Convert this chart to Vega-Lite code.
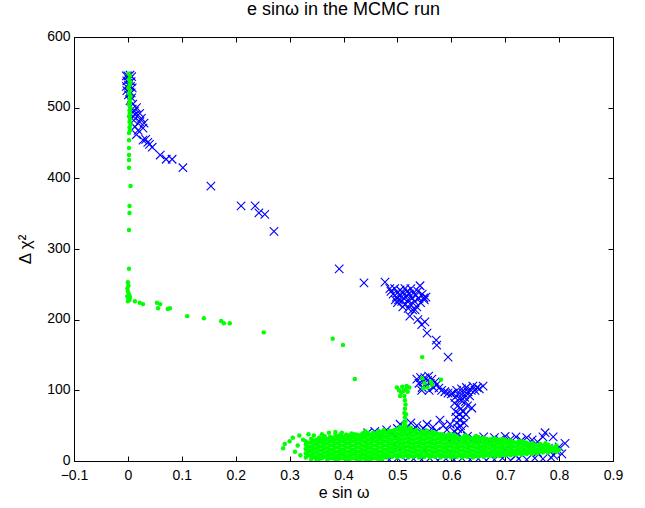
{
"$schema": "https://vega.github.io/schema/vega-lite/v6.json",
"width": 539, "height": 424,
"autosize": {"type": "none"},
"padding": {"left": 74, "top": 37, "right": 32, "bottom": 47},
"background": "white",
"config": {"view": {"stroke": "black", "strokeWidth": 1}, "font": "Liberation Sans"},
"title": {"text": "e sinω in the MCMC run", "fontSize": 18, "fontWeight": "normal", "font": "Liberation Sans", "color": "black", "offset": 10},
"datasets": {
"blue": [
{"x":-0.003,"y":545},{"x":0.0,"y":545},{"x":0.004,"y":546},{"x":0.007,"y":544},{"x":-0.002,"y":538},{"x":0.002,"y":540},{"x":0.006,"y":537},{"x":-0.003,"y":530},{"x":0.001,"y":532},{"x":0.005,"y":530},{"x":0.008,"y":528},{"x":-0.002,"y":524},{"x":0.003,"y":522},{"x":0.006,"y":521},{"x":0.001,"y":518},{"x":0.007,"y":514},{"x":0.004,"y":510},{"x":0.009,"y":505},{"x":0.008,"y":498},{"x":0.012,"y":495},{"x":0.009,"y":488},{"x":0.014,"y":490},{"x":0.011,"y":482},
{"x":0.022,"y":492},{"x":0.013,"y":473},{"x":0.022,"y":480},{"x":0.028,"y":471},{"x":0.019,"y":468},{"x":0.028,"y":454},{"x":0.037,"y":451},{"x":0.045,"y":444},{"x":0.06,"y":433},{"x":0.071,"y":427},{"x":0.082,"y":427},{"x":0.102,"y":415},{"x":0.154,"y":389},{"x":0.21,"y":361},{"x":0.236,"y":361},{"x":0.243,"y":351},{"x":0.254,"y":349},{"x":0.271,"y":325},
{"x":0.025,"y":485},{"x":0.03,"y":478},{"x":0.016,"y":462},{"x":0.033,"y":455},{"x":0.04,"y":448},{"x":0.016,"y":500},
{"x":0.392,"y":272},{"x":0.438,"y":252},{"x":0.477,"y":253},
{"x":0.488,"y":240},{"x":0.492,"y":236},{"x":0.495,"y":244},{"x":0.498,"y":232},{"x":0.5,"y":238},{"x":0.502,"y":228},{"x":0.505,"y":242},{"x":0.505,"y":234},{"x":0.508,"y":226},{"x":0.51,"y":238},{"x":0.512,"y":230},{"x":0.514,"y":244},{"x":0.515,"y":222},{"x":0.517,"y":234},{"x":0.518,"y":240},{"x":0.52,"y":228},{"x":0.522,"y":236},{"x":0.524,"y":222},{"x":0.525,"y":244},{"x":0.527,"y":230},{"x":0.53,"y":238},{"x":0.532,"y":226},{"x":0.534,"y":234},{"x":0.536,"y":218},{"x":0.538,"y":240},{"x":0.54,"y":230},{"x":0.543,"y":224},{"x":0.546,"y":236},{"x":0.55,"y":228},{"x":0.553,"y":232},{"x":0.5,"y":224},{"x":0.51,"y":218},{"x":0.52,"y":216},{"x":0.528,"y":214},{"x":0.496,"y":228},{"x":0.542,"y":248},{"x":0.549,"y":231},{"x":0.486,"y":244},
{"x":0.533,"y":214},{"x":0.523,"y":205},{"x":0.538,"y":200},{"x":0.551,"y":197},{"x":0.545,"y":193},{"x":0.555,"y":181},{"x":0.572,"y":171},{"x":0.573,"y":164},{"x":0.594,"y":147},
{"x":0.536,"y":116},{"x":0.54,"y":110},{"x":0.543,"y":118},{"x":0.546,"y":104},{"x":0.548,"y":112},{"x":0.551,"y":118},{"x":0.553,"y":106},{"x":0.556,"y":114},{"x":0.559,"y":100},{"x":0.561,"y":110},{"x":0.564,"y":116},{"x":0.567,"y":104},{"x":0.57,"y":112},{"x":0.573,"y":108},{"x":0.545,"y":100},{"x":0.558,"y":120},
{"x":0.577,"y":103},{"x":0.582,"y":100},{"x":0.588,"y":98},{"x":0.594,"y":96},{"x":0.6,"y":95},
{"x":0.603,"y":96},{"x":0.607,"y":90},{"x":0.61,"y":100},{"x":0.613,"y":94},{"x":0.616,"y":88},{"x":0.619,"y":102},{"x":0.622,"y":96},{"x":0.625,"y":90},{"x":0.628,"y":104},{"x":0.631,"y":98},{"x":0.634,"y":92},{"x":0.637,"y":100},{"x":0.64,"y":106},{"x":0.644,"y":100},{"x":0.648,"y":104},{"x":0.652,"y":102},{"x":0.618,"y":86},{"x":0.626,"y":84},{"x":0.659,"y":106},
{"x":0.606,"y":82},{"x":0.612,"y":78},{"x":0.618,"y":74},{"x":0.608,"y":70},{"x":0.615,"y":66},{"x":0.622,"y":70},{"x":0.609,"y":62},{"x":0.616,"y":58},{"x":0.622,"y":62},{"x":0.61,"y":54},{"x":0.617,"y":50},{"x":0.624,"y":54},{"x":0.612,"y":46},{"x":0.62,"y":44},{"x":0.638,"y":75},{"x":0.63,"y":78},{"x":0.627,"y":66},
{"x":0.48,"y":44},{"x":0.49,"y":40},{"x":0.5,"y":46},{"x":0.505,"y":52},{"x":0.512,"y":42},{"x":0.518,"y":48},{"x":0.525,"y":54},{"x":0.53,"y":44},{"x":0.536,"y":50},{"x":0.542,"y":42},{"x":0.548,"y":46},{"x":0.555,"y":52},{"x":0.56,"y":40},{"x":0.566,"y":48},{"x":0.572,"y":42},{"x":0.579,"y":58},{"x":0.585,"y":50},{"x":0.592,"y":44},{"x":0.598,"y":52},{"x":0.605,"y":42},{"x":0.612,"y":38},{"x":0.495,"y":34},{"x":0.47,"y":40},{"x":0.462,"y":36},{"x":0.445,"y":40},{"x":0.458,"y":42},{"x":0.473,"y":38},
{"x":0.47,"y":3},{"x":0.485,"y":2},{"x":0.5,"y":4},{"x":0.515,"y":1},{"x":0.53,"y":3},{"x":0.545,"y":2},{"x":0.56,"y":4},{"x":0.575,"y":1},{"x":0.59,"y":3},{"x":0.605,"y":2},{"x":0.62,"y":4},{"x":0.635,"y":2},{"x":0.65,"y":3},{"x":0.665,"y":1},{"x":0.68,"y":2},{"x":0.695,"y":4},{"x":0.71,"y":1},{"x":0.725,"y":3},{"x":0.74,"y":2},{"x":0.755,"y":4},{"x":0.77,"y":3},{"x":0.785,"y":5},
{"x":0.65,"y":30},{"x":0.66,"y":34},{"x":0.67,"y":28},{"x":0.68,"y":33},{"x":0.69,"y":30},{"x":0.7,"y":35},{"x":0.71,"y":31},{"x":0.72,"y":34},{"x":0.73,"y":29},{"x":0.74,"y":33},{"x":0.75,"y":30},{"x":0.76,"y":27},{"x":0.77,"y":34},{"x":0.774,"y":40},{"x":0.789,"y":34},{"x":0.811,"y":25},{"x":0.8,"y":20},{"x":0.795,"y":14},{"x":0.805,"y":10},{"x":0.79,"y":8},{"x":0.78,"y":18},{"x":0.76,"y":12},{"x":0.64,"y":32},{"x":0.63,"y":35},{"x":0.62,"y":33},{"x":0.6,"y":32},{"x":0.59,"y":34},
{"x":0.55,"y":15},{"x":0.6,"y":10},{"x":0.7,"y":15},{"x":0.72,"y":8},{"x":0.74,"y":20},{"x":0.5,"y":20}
],
"green": [
{"x":0.001,"y":548},{"x":0.004,"y":545},{"x":0.002,"y":540},{"x":0.005,"y":536},{"x":0.003,"y":532},{"x":0.001,"y":528},{"x":0.004,"y":524},{"x":0.002,"y":520},{"x":0.005,"y":516},{"x":0.003,"y":512},{"x":0.004,"y":508},{"x":0.002,"y":504},{"x":0.005,"y":500},{"x":0.003,"y":496},{"x":0.004,"y":492},{"x":0.002,"y":488},{"x":0.004,"y":484},{"x":0.003,"y":480},{"x":0.005,"y":476},{"x":0.003,"y":472},{"x":0.004,"y":468},{"x":0.002,"y":464},
{"x":0.002,"y":454},{"x":0.002,"y":443},{"x":0.002,"y":433},{"x":0.002,"y":426},{"x":0.002,"y":415},{"x":0.005,"y":389},{"x":0.003,"y":361},{"x":0.003,"y":351},{"x":0.002,"y":327},{"x":0.002,"y":272},
{"x":0.0,"y":253},{"x":0.001,"y":248},{"x":-0.001,"y":244},{"x":0.0,"y":240},{"x":0.002,"y":236},{"x":-0.001,"y":233},{"x":0.001,"y":230},{"x":0.003,"y":228},{"x":0.0,"y":226},{"x":0.004,"y":232},
{"x":0.013,"y":226},{"x":0.022,"y":224},{"x":0.028,"y":222},{"x":0.054,"y":224},{"x":0.056,"y":216},{"x":0.06,"y":222},{"x":0.074,"y":215},{"x":0.078,"y":216},{"x":0.11,"y":205},{"x":0.141,"y":202},{"x":0.173,"y":198},{"x":0.178,"y":195},{"x":0.189,"y":195},{"x":0.252,"y":182},
{"x":0.38,"y":173},{"x":0.399,"y":164},{"x":0.546,"y":147},{"x":0.421,"y":116},{"x":0.581,"y":115},
{"x":0.514,"y":50},{"x":0.515,"y":56},{"x":0.514,"y":62},{"x":0.513,"y":68},{"x":0.514,"y":74},{"x":0.515,"y":80},{"x":0.514,"y":86},{"x":0.513,"y":92},{"x":0.512,"y":54},{"x":0.516,"y":66},{"x":0.516,"y":44},
{"x":0.499,"y":104},{"x":0.503,"y":100},{"x":0.507,"y":97},{"x":0.511,"y":99},{"x":0.515,"y":101},{"x":0.519,"y":98},{"x":0.522,"y":104},{"x":0.509,"y":105},{"x":0.517,"y":106},{"x":0.505,"y":92},
{"x":0.546,"y":117},{"x":0.55,"y":110},{"x":0.556,"y":104},{"x":0.562,"y":112},{"x":0.548,"y":103},{"x":0.564,"y":108},
{"x":0.291,"y":24},{"x":0.288,"y":18},{"x":0.306,"y":33},{"x":0.31,"y":13},{"x":0.3,"y":28},{"x":0.315,"y":22},{"x":0.32,"y":8},{"x":0.325,"y":30},{"x":0.318,"y":36},{"x":0.335,"y":38},{"x":0.345,"y":36},{"x":0.36,"y":38},{"x":0.373,"y":40},{"x":0.385,"y":41},{"x":0.397,"y":40},{"x":0.42,"y":38},{"x":0.44,"y":42},
{"x":0.33,"y":5},{"x":0.33,"y":11},{"x":0.33,"y":17},{"x":0.33,"y":23},{"x":0.33,"y":28},
{"x":0.34,"y":3},{"x":0.34,"y":8},{"x":0.34,"y":14},{"x":0.34,"y":20},{"x":0.34,"y":26},{"x":0.34,"y":31},
{"x":0.35,"y":2},{"x":0.35,"y":6},{"x":0.35,"y":12},{"x":0.35,"y":18},{"x":0.35,"y":24},{"x":0.35,"y":30},
{"x":0.36,"y":4},{"x":0.36,"y":9},{"x":0.36,"y":15},{"x":0.36,"y":21},{"x":0.36,"y":27},{"x":0.36,"y":32},
{"x":0.37,"y":2},{"x":0.37,"y":7},{"x":0.37,"y":13},{"x":0.37,"y":19},{"x":0.37,"y":25},{"x":0.37,"y":31},
{"x":0.38,"y":4},{"x":0.38,"y":10},{"x":0.38,"y":16},{"x":0.38,"y":22},{"x":0.38,"y":28},{"x":0.38,"y":33},
{"x":0.39,"y":2},{"x":0.39,"y":7},{"x":0.39,"y":13},{"x":0.39,"y":19},{"x":0.39,"y":25},{"x":0.39,"y":31},{"x":0.39,"y":35},
{"x":0.4,"y":4},{"x":0.4,"y":10},{"x":0.4,"y":16},{"x":0.4,"y":22},{"x":0.4,"y":28},{"x":0.4,"y":34},
{"x":0.41,"y":1},{"x":0.41,"y":7},{"x":0.41,"y":13},{"x":0.41,"y":19},{"x":0.41,"y":25},{"x":0.41,"y":31},{"x":0.41,"y":36},
{"x":0.42,"y":4},{"x":0.42,"y":10},{"x":0.42,"y":16},{"x":0.42,"y":22},{"x":0.42,"y":28},{"x":0.42,"y":34},
{"x":0.43,"y":1},{"x":0.43,"y":7},{"x":0.43,"y":13},{"x":0.43,"y":19},{"x":0.43,"y":25},{"x":0.43,"y":31},{"x":0.43,"y":36},
{"x":0.44,"y":3},{"x":0.44,"y":9},{"x":0.44,"y":15},{"x":0.44,"y":21},{"x":0.44,"y":27},{"x":0.44,"y":33},{"x":0.44,"y":38},
{"x":0.45,"y":2},{"x":0.45,"y":7},{"x":0.45,"y":13},{"x":0.45,"y":19},{"x":0.45,"y":25},{"x":0.45,"y":31},{"x":0.45,"y":37},
{"x":0.46,"y":4},{"x":0.46,"y":10},{"x":0.46,"y":16},{"x":0.46,"y":22},{"x":0.46,"y":28},{"x":0.46,"y":34},{"x":0.46,"y":39},
{"x":0.47,"y":2},{"x":0.47,"y":7},{"x":0.47,"y":13},{"x":0.47,"y":19},{"x":0.47,"y":25},{"x":0.47,"y":31},{"x":0.47,"y":37},{"x":0.47,"y":41},
{"x":0.48,"y":5},{"x":0.48,"y":10},{"x":0.48,"y":16},{"x":0.48,"y":22},{"x":0.48,"y":28},{"x":0.48,"y":34},{"x":0.48,"y":40},
{"x":0.49,"y":6},{"x":0.49,"y":12},{"x":0.49,"y":18},{"x":0.49,"y":24},{"x":0.49,"y":30},{"x":0.49,"y":36},{"x":0.49,"y":42},
{"x":0.5,"y":5},{"x":0.5,"y":9},{"x":0.5,"y":15},{"x":0.5,"y":21},{"x":0.5,"y":27},{"x":0.5,"y":33},{"x":0.5,"y":39},{"x":0.5,"y":45},
{"x":0.51,"y":6},{"x":0.51,"y":12},{"x":0.51,"y":18},{"x":0.51,"y":24},{"x":0.51,"y":30},{"x":0.51,"y":36},{"x":0.51,"y":42},{"x":0.51,"y":47},
{"x":0.52,"y":5},{"x":0.52,"y":9},{"x":0.52,"y":15},{"x":0.52,"y":21},{"x":0.52,"y":27},{"x":0.52,"y":33},{"x":0.52,"y":39},{"x":0.52,"y":45},
{"x":0.53,"y":6},{"x":0.53,"y":12},{"x":0.53,"y":18},{"x":0.53,"y":24},{"x":0.53,"y":30},{"x":0.53,"y":36},{"x":0.53,"y":42},
{"x":0.54,"y":5},{"x":0.54,"y":9},{"x":0.54,"y":15},{"x":0.54,"y":21},{"x":0.54,"y":27},{"x":0.54,"y":33},{"x":0.54,"y":39},
{"x":0.55,"y":6},{"x":0.55,"y":12},{"x":0.55,"y":18},{"x":0.55,"y":24},{"x":0.55,"y":30},{"x":0.55,"y":36},{"x":0.55,"y":41},
{"x":0.56,"y":5},{"x":0.56,"y":9},{"x":0.56,"y":15},{"x":0.56,"y":21},{"x":0.56,"y":27},{"x":0.56,"y":33},{"x":0.56,"y":39},
{"x":0.57,"y":6},{"x":0.57,"y":12},{"x":0.57,"y":18},{"x":0.57,"y":24},{"x":0.57,"y":30},{"x":0.57,"y":36},{"x":0.57,"y":40},
{"x":0.58,"y":5},{"x":0.58,"y":9},{"x":0.58,"y":15},{"x":0.58,"y":21},{"x":0.58,"y":27},{"x":0.58,"y":33},{"x":0.58,"y":38},
{"x":0.59,"y":6},{"x":0.59,"y":12},{"x":0.59,"y":18},{"x":0.59,"y":24},{"x":0.59,"y":30},{"x":0.59,"y":36},
{"x":0.6,"y":5},{"x":0.6,"y":9},{"x":0.6,"y":15},{"x":0.6,"y":21},{"x":0.6,"y":27},{"x":0.6,"y":33},{"x":0.6,"y":37},
{"x":0.61,"y":6},{"x":0.61,"y":12},{"x":0.61,"y":18},{"x":0.61,"y":24},{"x":0.61,"y":30},{"x":0.61,"y":35},
{"x":0.62,"y":5},{"x":0.62,"y":9},{"x":0.62,"y":15},{"x":0.62,"y":21},{"x":0.62,"y":27},{"x":0.62,"y":33},
{"x":0.63,"y":6},{"x":0.63,"y":12},{"x":0.63,"y":18},{"x":0.63,"y":24},{"x":0.63,"y":30},{"x":0.63,"y":35},
{"x":0.64,"y":5},{"x":0.64,"y":9},{"x":0.64,"y":15},{"x":0.64,"y":21},{"x":0.64,"y":27},{"x":0.64,"y":32},
{"x":0.65,"y":6},{"x":0.65,"y":12},{"x":0.65,"y":18},{"x":0.65,"y":24},{"x":0.65,"y":30},{"x":0.65,"y":34},
{"x":0.66,"y":6},{"x":0.66,"y":10},{"x":0.66,"y":16},{"x":0.66,"y":22},{"x":0.66,"y":28},{"x":0.66,"y":33},
{"x":0.67,"y":7},{"x":0.67,"y":12},{"x":0.67,"y":18},{"x":0.67,"y":24},{"x":0.67,"y":30},
{"x":0.68,"y":6},{"x":0.68,"y":10},{"x":0.68,"y":16},{"x":0.68,"y":22},{"x":0.68,"y":28},{"x":0.68,"y":32},
{"x":0.69,"y":7},{"x":0.69,"y":12},{"x":0.69,"y":18},{"x":0.69,"y":24},{"x":0.69,"y":30},
{"x":0.7,"y":8},{"x":0.7,"y":13},{"x":0.7,"y":19},{"x":0.7,"y":25},{"x":0.7,"y":30},
{"x":0.71,"y":8},{"x":0.71,"y":12},{"x":0.71,"y":18},{"x":0.71,"y":24},{"x":0.71,"y":29},
{"x":0.72,"y":9},{"x":0.72,"y":14},{"x":0.72,"y":20},{"x":0.72,"y":26},
{"x":0.73,"y":9},{"x":0.73,"y":13},{"x":0.73,"y":19},{"x":0.73,"y":25},{"x":0.73,"y":28},
{"x":0.74,"y":10},{"x":0.74,"y":15},{"x":0.74,"y":21},{"x":0.74,"y":26},
{"x":0.75,"y":10},{"x":0.75,"y":14},{"x":0.75,"y":20},{"x":0.75,"y":25},
{"x":0.76,"y":11},{"x":0.76,"y":16},{"x":0.76,"y":22},
{"x":0.77,"y":12},{"x":0.77,"y":17},{"x":0.77,"y":22},
{"x":0.78,"y":12},{"x":0.78,"y":18},{"x":0.78,"y":23},
{"x":0.79,"y":14},{"x":0.79,"y":19},
{"x":0.8,"y":16},
{"x":0.335,"y":8},{"x":0.335,"y":14},{"x":0.335,"y":20},{"x":0.335,"y":26},
{"x":0.345,"y":5},{"x":0.345,"y":11},{"x":0.345,"y":17},{"x":0.345,"y":23},{"x":0.345,"y":29},
{"x":0.355,"y":3},{"x":0.355,"y":9},{"x":0.355,"y":15},{"x":0.355,"y":21},{"x":0.355,"y":27},{"x":0.355,"y":33},
{"x":0.365,"y":6},{"x":0.365,"y":12},{"x":0.365,"y":18},{"x":0.365,"y":24},{"x":0.365,"y":30},{"x":0.365,"y":35},
{"x":0.375,"y":4},{"x":0.375,"y":10},{"x":0.375,"y":16},{"x":0.375,"y":22},{"x":0.375,"y":28},{"x":0.375,"y":34},
{"x":0.385,"y":2},{"x":0.385,"y":7},{"x":0.385,"y":13},{"x":0.385,"y":19},{"x":0.385,"y":25},{"x":0.385,"y":31},{"x":0.385,"y":37},
{"x":0.395,"y":4},{"x":0.395,"y":10},{"x":0.395,"y":16},{"x":0.395,"y":22},{"x":0.395,"y":28},{"x":0.395,"y":34},{"x":0.395,"y":38},
{"x":0.405,"y":2},{"x":0.405,"y":7},{"x":0.405,"y":13},{"x":0.405,"y":19},{"x":0.405,"y":25},{"x":0.405,"y":31},{"x":0.405,"y":37},
{"x":0.415,"y":4},{"x":0.415,"y":10},{"x":0.415,"y":16},{"x":0.415,"y":22},{"x":0.415,"y":28},{"x":0.415,"y":34},{"x":0.415,"y":39},
{"x":0.425,"y":2},{"x":0.425,"y":7},{"x":0.425,"y":13},{"x":0.425,"y":19},{"x":0.425,"y":25},{"x":0.425,"y":31},{"x":0.425,"y":37},
{"x":0.435,"y":4},{"x":0.435,"y":10},{"x":0.435,"y":16},{"x":0.435,"y":22},{"x":0.435,"y":28},{"x":0.435,"y":34},{"x":0.435,"y":39},
{"x":0.445,"y":2},{"x":0.445,"y":6},{"x":0.445,"y":12},{"x":0.445,"y":18},{"x":0.445,"y":24},{"x":0.445,"y":30},{"x":0.445,"y":36},{"x":0.445,"y":40},
{"x":0.455,"y":4},{"x":0.455,"y":10},{"x":0.455,"y":16},{"x":0.455,"y":22},{"x":0.455,"y":28},{"x":0.455,"y":34},{"x":0.455,"y":40},
{"x":0.465,"y":2},{"x":0.465,"y":7},{"x":0.465,"y":13},{"x":0.465,"y":19},{"x":0.465,"y":25},{"x":0.465,"y":31},{"x":0.465,"y":37},{"x":0.465,"y":42},
{"x":0.475,"y":5},{"x":0.475,"y":10},{"x":0.475,"y":16},{"x":0.475,"y":22},{"x":0.475,"y":28},{"x":0.475,"y":34},{"x":0.475,"y":40},{"x":0.475,"y":44},
{"x":0.485,"y":7},{"x":0.485,"y":13},{"x":0.485,"y":19},{"x":0.485,"y":25},{"x":0.485,"y":31},{"x":0.485,"y":37},{"x":0.485,"y":43},
{"x":0.495,"y":8},{"x":0.495,"y":14},{"x":0.495,"y":20},{"x":0.495,"y":26},{"x":0.495,"y":32},{"x":0.495,"y":38},{"x":0.495,"y":44},
{"x":0.505,"y":7},{"x":0.505,"y":13},{"x":0.505,"y":19},{"x":0.505,"y":25},{"x":0.505,"y":31},{"x":0.505,"y":37},{"x":0.505,"y":43},{"x":0.505,"y":48},
{"x":0.515,"y":8},{"x":0.515,"y":14},{"x":0.515,"y":20},{"x":0.515,"y":26},{"x":0.515,"y":32},{"x":0.515,"y":38},{"x":0.515,"y":44},{"x":0.515,"y":50},
{"x":0.525,"y":7},{"x":0.525,"y":13},{"x":0.525,"y":19},{"x":0.525,"y":25},{"x":0.525,"y":31},{"x":0.525,"y":37},{"x":0.525,"y":43},{"x":0.525,"y":47},
{"x":0.535,"y":8},{"x":0.535,"y":14},{"x":0.535,"y":20},{"x":0.535,"y":26},{"x":0.535,"y":32},{"x":0.535,"y":38},{"x":0.535,"y":44},
{"x":0.545,"y":7},{"x":0.545,"y":13},{"x":0.545,"y":19},{"x":0.545,"y":25},{"x":0.545,"y":31},{"x":0.545,"y":37},{"x":0.545,"y":42},
{"x":0.555,"y":8},{"x":0.555,"y":14},{"x":0.555,"y":20},{"x":0.555,"y":26},{"x":0.555,"y":32},{"x":0.555,"y":38},{"x":0.555,"y":43},
{"x":0.565,"y":7},{"x":0.565,"y":13},{"x":0.565,"y":19},{"x":0.565,"y":25},{"x":0.565,"y":31},{"x":0.565,"y":37},{"x":0.565,"y":41},
{"x":0.575,"y":8},{"x":0.575,"y":14},{"x":0.575,"y":20},{"x":0.575,"y":26},{"x":0.575,"y":32},{"x":0.575,"y":38},
{"x":0.585,"y":7},{"x":0.585,"y":13},{"x":0.585,"y":19},{"x":0.585,"y":25},{"x":0.585,"y":31},{"x":0.585,"y":37},
{"x":0.595,"y":8},{"x":0.595,"y":14},{"x":0.595,"y":20},{"x":0.595,"y":26},{"x":0.595,"y":32},{"x":0.595,"y":38},
{"x":0.605,"y":7},{"x":0.605,"y":13},{"x":0.605,"y":19},{"x":0.605,"y":25},{"x":0.605,"y":31},{"x":0.605,"y":37},
{"x":0.615,"y":8},{"x":0.615,"y":14},{"x":0.615,"y":20},{"x":0.615,"y":26},{"x":0.615,"y":32},
{"x":0.625,"y":7},{"x":0.625,"y":13},{"x":0.625,"y":19},{"x":0.625,"y":25},{"x":0.625,"y":31},{"x":0.625,"y":36},
{"x":0.635,"y":8},{"x":0.635,"y":14},{"x":0.635,"y":20},{"x":0.635,"y":26},{"x":0.635,"y":32},
{"x":0.645,"y":7},{"x":0.645,"y":13},{"x":0.645,"y":19},{"x":0.645,"y":25},{"x":0.645,"y":31},{"x":0.645,"y":35},
{"x":0.655,"y":8},{"x":0.655,"y":14},{"x":0.655,"y":20},{"x":0.655,"y":26},{"x":0.655,"y":32},
{"x":0.665,"y":8},{"x":0.665,"y":13},{"x":0.665,"y":19},{"x":0.665,"y":25},{"x":0.665,"y":31},
{"x":0.675,"y":9},{"x":0.675,"y":14},{"x":0.675,"y":20},{"x":0.675,"y":26},{"x":0.675,"y":31},
{"x":0.685,"y":8},{"x":0.685,"y":13},{"x":0.685,"y":19},{"x":0.685,"y":25},{"x":0.685,"y":30},
{"x":0.695,"y":9},{"x":0.695,"y":15},{"x":0.695,"y":21},{"x":0.695,"y":27},{"x":0.695,"y":31},
{"x":0.705,"y":10},{"x":0.705,"y":16},{"x":0.705,"y":22},{"x":0.705,"y":28},
{"x":0.715,"y":10},{"x":0.715,"y":15},{"x":0.715,"y":21},{"x":0.715,"y":27},
{"x":0.725,"y":11},{"x":0.725,"y":17},{"x":0.725,"y":23},{"x":0.725,"y":28},
{"x":0.735,"y":11},{"x":0.735,"y":16},{"x":0.735,"y":22},{"x":0.735,"y":27},
{"x":0.745,"y":12},{"x":0.745,"y":18},{"x":0.745,"y":24},
{"x":0.755,"y":12},{"x":0.755,"y":17},{"x":0.755,"y":23},
{"x":0.765,"y":13},{"x":0.765,"y":19},{"x":0.765,"y":24},
{"x":0.775,"y":14},{"x":0.775,"y":20},{"x":0.775,"y":25},
{"x":0.785,"y":15},{"x":0.785,"y":20},
{"x":0.795,"y":13},{"x":0.795,"y":18},{"x":0.795,"y":22}
]
},
"layer": [
{
"data": {"name": "blue"},
"mark": {"type": "point", "shape": "M-1,-1L1,1M-1,1L1,-1", "filled": false, "stroke": "#0000ff", "strokeWidth": 1.1, "size": 72, "opacity": 1, "clip": true},
"encoding": {
"x": {"field": "x", "type": "quantitative", "scale": {"domain": [-0.1, 0.9], "nice": false, "zero": false},
"axis": {"orient": "bottom", "title": "e sin ω", "values": [-0.1,0,0.1,0.2,0.3,0.4,0.5,0.6,0.7,0.8,0.9], "format": ".1~f", "grid": false, "domain": false, "tickSize": -5, "tickColor": "black", "labelPadding": 12, "labelFontSize": 14, "labelColor": "black", "labelFont": "Liberation Sans", "titleFontSize": 16, "titleFontWeight": "normal", "titleFont": "Liberation Sans", "titleColor": "black", "titlePadding": 2, "labelFlush": false}},
"y": {"field": "y", "type": "quantitative", "scale": {"domain": [0, 600], "nice": false},
"axis": {"orient": "left", "title": "Δ χ²", "values": [0,100,200,300,400,500,600], "grid": false, "domain": false, "tickSize": -5, "tickColor": "black", "labelPadding": 9, "labelFontSize": 14, "labelColor": "black", "labelFont": "Liberation Sans", "labelOffset": -1, "titleFontSize": 17, "titleFontWeight": "normal", "titleFont": "Liberation Sans", "titleColor": "black", "titlePadding": 12, "labelFlush": false}}
}
},
{
"data": {"name": "green"},
"mark": {"type": "circle", "color": "#00ff00", "size": 20, "opacity": 1, "clip": true},
"encoding": {
"x": {"field": "x", "type": "quantitative", "scale": {"domain": [-0.1, 0.9], "nice": false, "zero": false},
"axis": {"orient": "top", "title": null, "labels": false, "values": [-0.1,0,0.1,0.2,0.3,0.4,0.5,0.6,0.7,0.8,0.9], "grid": false, "domain": false, "tickSize": -5, "tickColor": "black"}},
"y": {"field": "y", "type": "quantitative", "scale": {"domain": [0, 600], "nice": false},
"axis": {"orient": "right", "title": null, "labels": false, "values": [0,100,200,300,400,500,600], "grid": false, "domain": false, "tickSize": -5, "tickColor": "black"}}
}
}
],
"resolve": {"axis": {"x": "independent", "y": "independent"}}
}
